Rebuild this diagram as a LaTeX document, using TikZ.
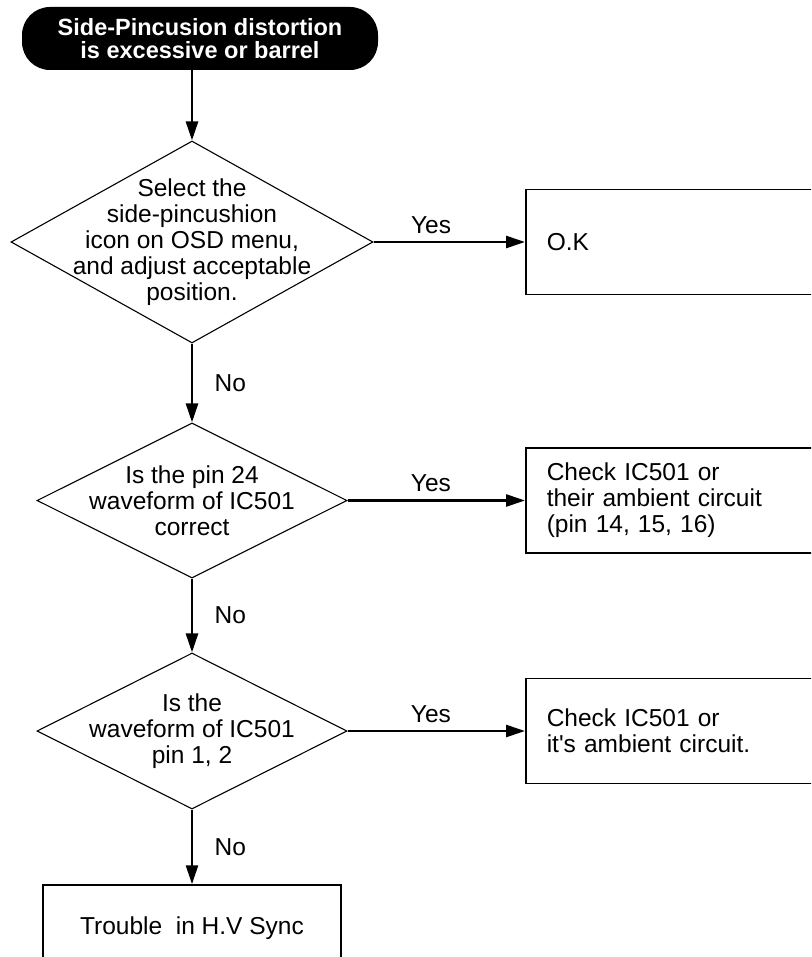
\documentclass[tikz,border=0pt]{standalone}
\usepackage{fontspec}
\setmainfont{Liberation Sans}
\usetikzlibrary{positioning, arrows.meta, shapes.geometric}

\begin{document}
\begin{tikzpicture}[x=1pt, y=-1pt]
	\tikzset{
		flow/.style={line width=2.6pt, -{Triangle[length=19pt, width=12pt]}},
		decision/.style={diamond, draw, line width=1.1pt, inner sep=0pt},
		stepbox/.style={rectangle, draw, line width=1.5pt, anchor=west, minimum width=300pt, minimum height=105pt, text width=258pt, inner xsep=21pt, align=left},
		endbox/.style={rectangle, draw, line width=1.5pt, minimum width=298pt, minimum height=86pt, align=center},
		startbox/.style={rectangle, rounded corners=28pt, fill=black, text=white, minimum width=356pt, minimum height=63pt, align=center, font=\fontsize{23.5}{23.5}\selectfont\bfseries},
		every node/.append style={font=\fontsize{24.5}{26}\selectfont}
	}
	\useasboundingbox (0,0) rectangle (811,957);
	\clip (0,0) rectangle (811,957);

	\node[startbox] (start) at (200,38.5) {Side-Pincusion distortion\\is excessive or barrel};

	% questions
	\node[decision, minimum width=362pt, minimum height=202pt,
		label={[align=center]center:Select the\\side-pincushion\\icon on OSD menu,\\and adjust acceptable\\position.}] (d1) at (192,242) {};
	\node[decision, minimum width=310pt, minimum height=155pt,
		label={[align=center]center:Is the pin 24\\waveform of IC501\\correct}] (d2) at (192,500.5) {};
	\node[decision, minimum width=310pt, minimum height=156pt,
		label={[align=center]center:Is the\\waveform of IC501\\pin 1, 2}] (d3) at (192,731) {};

	% results
	\node[stepbox] (ok) at (525,242) {O.K};
	\node[stepbox] (chk1) at (525,500.5) {Check IC501 or\\their ambient circuit\\(pin 14, 15, 16)};
	\node[stepbox] (chk2) at (525,731) {Check IC501 or\\it\textquotesingle s ambient circuit.};
	\node[endbox] (trouble) at (192,928) {Trouble\ \ in H.V Sync};

	\draw[flow] (start.south -| d1.north) -- (d1.north);
	\foreach \a/\b/\p in {d1/ok/0.38, d2/chk1/0.47, d3/chk2/0.47}
		\draw[flow] (\a.east) -- node[pos=\p, above=4pt] {Yes} (\b.west);
	\foreach \a/\b in {d1/d2, d2/d3, d3/trouble}
		\draw[flow] (\a.south) -- node[right=18pt] {No} (\b.north);
\end{tikzpicture}
\end{document}
